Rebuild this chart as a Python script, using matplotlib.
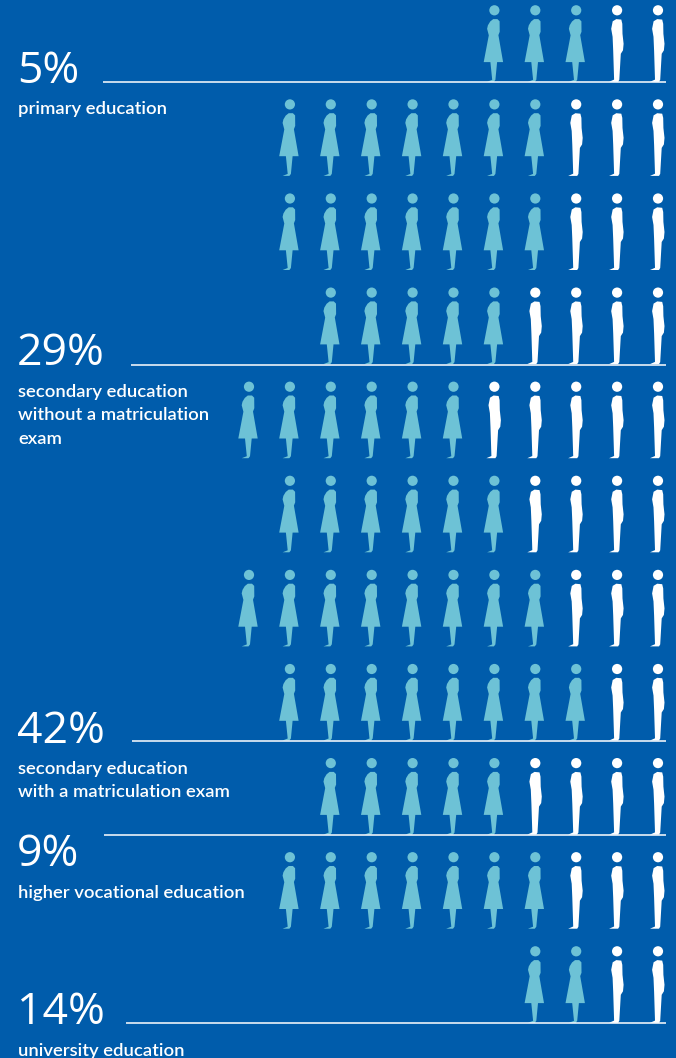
import matplotlib
matplotlib.use('Agg')
import matplotlib.pyplot as plt
from matplotlib.patches import Polygon, Circle

# people per row, top to bottom
women_counts = [3, 7, 7, 5, 6, 6, 8, 8, 5, 7, 2]
men_counts = [2, 3, 3, 4, 5, 4, 3, 2, 4, 3, 2]

shares = ['5%', '29%', '42%', '9%', '14%']
share_rows = [0, 3, 7, 8, 10]
share_labels = [
    ['primary education'],
    ['secondary education', 'without a matriculation', 'exam'],
    ['secondary education', 'with a matriculation exam'],
    ['higher vocational education'],
    ['university education'],
]

BG = '#005CAB'
WOMAN = '#6DC2D6'
MAN = '#FFFFFF'

# silhouettes relative to the head centre and the ground line, in pixels
WOMAN_SHAPE = [(-4.2, 60.3), (-1.2, 62.7), (3, 62.7), (5.2, 60.5), (5.3, 50), (4, 46.7), (8.7, 19.7),
               (2.7, 19.7), (1, 2), (-0.5, 0), (-7.3, 0), (-2.2, 2), (-4, 19.7), (-10.7, 19.7),
               (-5.6, 46.5), (-7.3, 53), (-6.5, 56.5)]
MAN_SHAPE = [(-4.4, 60.5), (-0.8, 62.7), (4.2, 62.2), (5.2, 58), (5.4, 48), (6.5, 38), (5.9, 31.5), (3.7, 28),
             (2.2, 2), (1, 0), (-8, 0), (-3, 2.2), (-3.9, 31), (-4.5, 45), (-5.9, 53)]
HEAD_Y = 71.5
HEAD_R = 5.1

ROW_START = 81.8
ROW_STEP = 94.1
COL_RIGHT = 658
COL_STEP = 40.9
LABEL_STEP = 23.8

fig = plt.figure(figsize=(6.76, 10.58), dpi=100, facecolor=BG)
ax = fig.add_axes([0, 0, 1, 1])
ax.set_xlim(0, 676)
ax.set_ylim(1058, 0)
ax.axis('off')


def draw_person(x, ground, shape, color):
    pts = [(x + dx, ground - dy) for dx, dy in shape]
    ax.add_patch(Polygon(pts, closed=True, facecolor=color, edgecolor='none', zorder=3))
    ax.add_patch(Circle((x, ground - HEAD_Y), HEAD_R, facecolor=color, edgecolor='none', zorder=3))


for row, (n_women, n_men) in enumerate(zip(women_counts, men_counts)):
    ground = ROW_START + row * ROW_STEP
    for col in range(n_women + n_men):
        x = COL_RIGHT - (n_women + n_men - 1 - col) * COL_STEP
        if col < n_women:
            draw_person(x, ground, WOMAN_SHAPE, WOMAN)
        else:
            draw_person(x, ground, MAN_SHAPE, MAN)

line_starts = [103, 131, 132, 104, 126]
share_baselines = [83, 365, 743, 866, 1024]
label_baselines = [113, 396, 773, 897, 1055]

for i, row in enumerate(share_rows):
    ground = ROW_START + row * ROW_STEP
    ax.plot([line_starts[i], 666], [ground + 0.6, ground + 0.6], color='white', lw=1.1,
            solid_capstyle='butt', zorder=4)
    ax.text(17, share_baselines[i], shares[i], color='white', fontsize=32, family='Open Sans',
            fontweight='normal', va='baseline', ha='left')
    # labels are placed line by line so the leading stays even
    for j, line in enumerate(share_labels[i]):
        ax.text(18, label_baselines[i] + 0.6 + j * LABEL_STEP, line, color='white', fontsize=13.3,
                family='Lato', fontweight='semibold', va='baseline', ha='left')

fig.savefig('out.png', dpi=100, facecolor=BG)
